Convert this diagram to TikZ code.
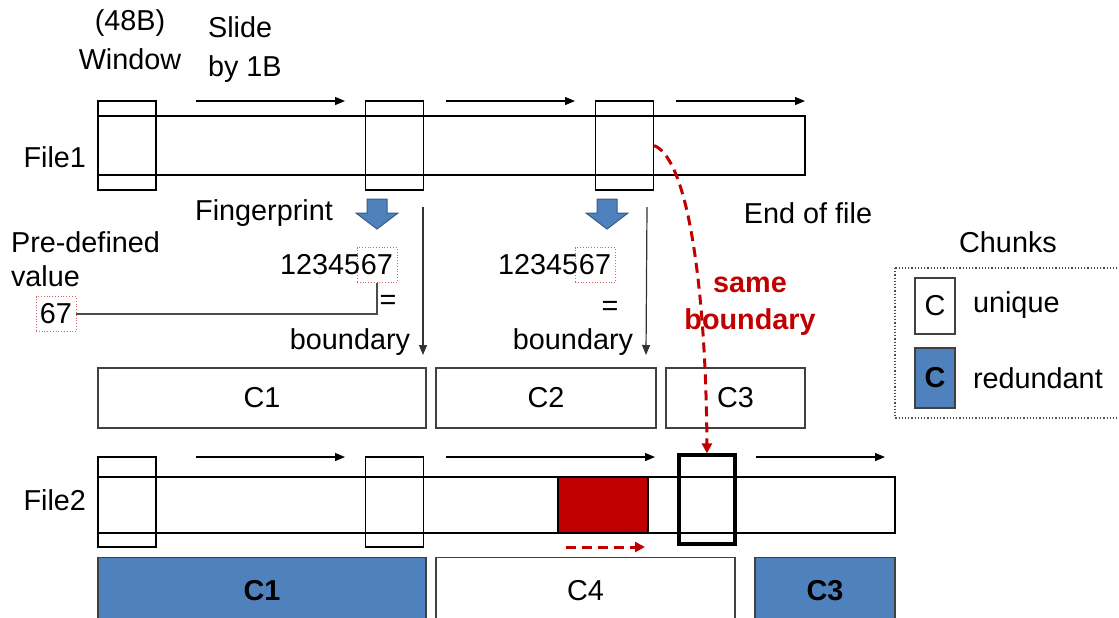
\documentclass[tikz,border=0pt]{standalone}
\usepackage{fontspec}
\setmainfont{Liberation Sans}
\usetikzlibrary{arrows.meta,positioning}
\definecolor{chunkblue}{HTML}{4F81BD}
\definecolor{darkred}{HTML}{C00000}

\begin{document}
\begin{tikzpicture}[
    x=0.5pt, y=-0.5pt,
    font=\fontsize{14.4}{19.5}\selectfont,
    >={Triangle[length=5pt,width=4pt]},
    filebar/.style={draw, line width=0.6pt, inner sep=0pt},
    window/.style={draw, line width=0.6pt, minimum width=29pt, minimum height=44.5pt, inner sep=0pt},
    chunk/.style={draw=black!75, line width=0.6pt, minimum height=30pt, inner sep=0pt},
    dup/.style={chunk, fill=chunkblue, font=\fontsize{14.4}{19.5}\selectfont\bfseries},
    slide/.style={line width=0.6pt, ->},
    digits/.style={draw=darkred!60, densely dotted, inner xsep=2pt, inner ysep=0pt, minimum height=17.5pt},
    fatarrow/.style={draw=chunkblue!70!black, fill=chunkblue, line width=0.5pt, line join=miter}
]
\useasboundingbox (0,0) rectangle (1119,617);

% File1 with the sliding window
\node[filebar, minimum width=353.5pt, minimum height=29.5pt] (file1) at (451.5,145.5) {};
\node[window] (w1a) at (127,145.5) {};
\node[window] (w1b) at (394.5,145.5) {};
\node[window] (w1c) at (624.5,145.5) {};
\node[anchor=east] (lfile1) at (93,157) {File1};
\node[align=center] (lwin) at (130,40) {(48B)\\Window};
\node[align=left, anchor=west] (lslide) at (201,50) {Slide\\by 1B};
\coordinate (s1a) at (196,101); \coordinate (e1a) at (345,101);
\coordinate (s1b) at (446,101); \coordinate (e1b) at (575,101);
\coordinate (s1c) at (676,101); \coordinate (e1c) at (805,101);
\foreach \i in {a,b,c}
    \draw[slide] (s1\i) -- (e1\i);

% fingerprints
\coordinate (fa) at (377,199);
\coordinate (fb) at (607,199);
\foreach \f in {fa,fb}
    \draw[fatarrow, shift={(\f)}] (-10,0) -- (10,0) -- (10,14) -- (21,14) -- (0,30) -- (-21,14) -- (-10,14) -- cycle;
\node (lfp) at (264,213) {Fingerprint};
\node (leof) at (808,213) {End of file};
\node[align=left, anchor=west, font=\fontsize{14.4}{17}\selectfont] (lpre) at (4,259) {Pre-defined\\value};
\node[digits] (v67) at (56,314) {67};
\node[digits] (fpa67) at (377,265) {67};
\node[left=-2pt of fpa67, inner sep=0pt] (fpa) {12345};
\node[digits] (fpb67) at (595,265) {67};
\node[left=-2pt of fpb67, inner sep=0pt] (fpb) {12345};
\draw[line width=0.6pt, black!70] (fpa67.south) |- (v67.east);
\node (eqa) at (388,302) {=};
\node (eqb) at (610,308) {=};
\node (bda) at (350,342) {boundary};
\node (bdb) at (573,342) {boundary};
\coordinate (ta) at (423,207); \coordinate (ua) at (423,355);
\coordinate (tb) at (647,207); \coordinate (ub) at (646,355);
\draw[slide, black!80] (ta) -- (ua);
\draw[slide, black!80] (tb) -- (ub);

% chunks of File1
\node[chunk, minimum width=164pt] (c1) at (262,398) {C1};
\node[chunk, minimum width=110pt] (c2) at (546,398) {C2};
\node[chunk, minimum width=69.5pt] (c3) at (735.5,398) {C3};

% legend
\node (lchunks) at (1008,242) {Chunks};
\draw[densely dotted, black!70, line width=0.6pt] (895,268) rectangle (1125,418);
\node[chunk, minimum width=20pt, minimum height=28pt] (lgu) at (935,306) {C};
\node[dup, minimum width=20pt] (lgr) at (935,378) {C};
\node[anchor=west] (lunique) at (966,305) {unique};
\node[anchor=west] (lredund) at (966,378) {redundant};

% File2 after an insertion
\node[filebar, minimum width=398.5pt, minimum height=28pt] (file2) at (496.5,505) {};
\node[window, minimum height=45pt] (w2a) at (127,502) {};
\node[window, minimum height=45pt] (w2b) at (394.5,502) {};
\node[draw, line width=0.6pt, fill=darkred, minimum width=45pt, minimum height=28pt, inner sep=0pt] (ins) at (603,505) {};
\node[draw, line width=1.6pt, minimum width=28pt, minimum height=44.5pt, inner sep=0pt] (w2c) at (707,499.5) {};
\node[anchor=east] (lfile2) at (93,500) {File2};
\coordinate (s2a) at (196,457); \coordinate (e2a) at (345,457);
\coordinate (s2b) at (446,457); \coordinate (e2b) at (655,457);
\coordinate (s2c) at (756,457); \coordinate (e2c) at (885,457);
\foreach \i in {a,b,c}
    \draw[slide] (s2\i) -- (e2\i);
\coordinate (shs) at (566,547); \coordinate (she) at (645,547);
\draw[darkred, line width=1.5pt, dash pattern=on 5pt off 3pt, -{Triangle[length=5pt,width=5pt]}] (shs) -- (she);

% same boundary found again
\draw[darkred, line width=1.5pt, dash pattern=on 5pt off 3pt, -{Triangle[length=5pt,width=5pt]}]
    (w1c.east) .. controls (690,160) and (706,300) .. (w2c.north);
\node[align=center, text=darkred, font=\fontsize{14.4}{18.5}\selectfont\bfseries] (lsame) at (750,306) {same\\boundary};

% chunks of File2
\node[dup, minimum width=164pt, minimum height=33pt] (d1) at (262,590.5) {C1};
\node[chunk, minimum width=149.5pt, minimum height=33pt] (c4) at (585.5,590.5) {C4};
\node[dup, minimum width=70pt, minimum height=33pt] (d3) at (825,590.5) {C3};
\end{tikzpicture}
\end{document}
